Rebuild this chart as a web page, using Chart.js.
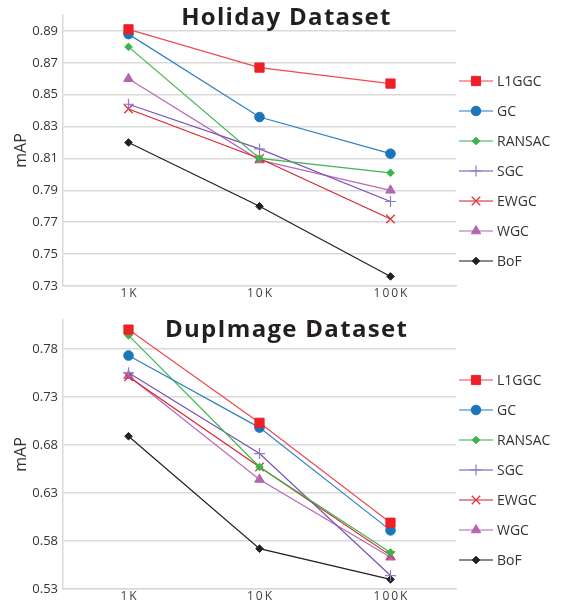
<!DOCTYPE html>
<html>
<head>
<meta charset="utf-8">
<script src="https://cdn.jsdelivr.net/npm/chart.js@4.4.0/dist/chart.umd.min.js"></script>
<style>
body { margin: 0; background: #fff; }
.box { position: relative; width: 569px; height: 303px; }
</style>
</head>
<body>
<div class="box"><canvas id="holiday"></canvas></div>
<div class="box"><canvas id="dupimage"></canvas></div>
<script>
var sizes = ['1K', '10K', '100K'];
var methods = ['L1GGC', 'GC', 'RANSAC', 'SGC', 'EWGC', 'WGC', 'BoF'];

// Holiday dataset, mAP
var holidayL1GGC  = [0.891, 0.867, 0.857];
var holidayGC     = [0.888, 0.836, 0.813];
var holidayRANSAC = [0.880, 0.810, 0.801];
var holidaySGC    = [0.844, 0.816, 0.783];
var holidayEWGC   = [0.841, 0.810, 0.772];
var holidayWGC    = [0.860, 0.809, 0.790];
var holidayBoF    = [0.820, 0.780, 0.736];
var holidayTicks  = [0.73, 0.75, 0.77, 0.79, 0.81, 0.83, 0.85, 0.87, 0.89];

// DupImage dataset, mAP
var dupL1GGC  = [0.800, 0.703, 0.599];
var dupGC     = [0.773, 0.698, 0.591];
var dupRANSAC = [0.794, 0.657, 0.568];
var dupSGC    = [0.755, 0.671, 0.544];
var dupEWGC   = [0.751, 0.657, 0.565];
var dupWGC    = [0.752, 0.644, 0.563];
var dupBoF    = [0.689, 0.572, 0.540];
var dupTicks  = [0.53, 0.58, 0.63, 0.68, 0.73, 0.78];

// look of each method: line colour, marker colour, marker shape, marker size
var styles = [
  { line: '#ef4a4f', mark: '#ed2027', shape: 'rect',      r: 6.5, bw: 1 },
  { line: '#2f80c4', mark: '#1b75bb', shape: 'circle',    r: 4.8, bw: 1 },
  { line: '#3db64d', mark: '#39b54a', shape: 'rectRot',   r: 3.8, bw: 1 },
  { line: '#7b52b3', mark: '#8a7cc4', shape: 'cross',     r: 5.5, bw: 1.2 },
  { line: '#d6262d', mark: '#de3a40', shape: 'crossRot',  r: 6,   bw: 1.4 },
  { line: '#b86ab6', mark: '#b366b1', shape: 'triangle',  r: 5.5, bw: 1 },
  { line: '#231f20', mark: '#231f20', shape: 'rectRot',   r: 3.8, bw: 1 }
];

function makeSets(series) {
  return series.map(function (vals, i) {
    var s = styles[i];
    return {
      label: methods[i],
      data: vals,
      borderColor: s.line,
      borderWidth: 1.2,
      pointStyle: s.shape,
      pointRadius: s.r,
      pointBackgroundColor: s.mark,
      pointBorderColor: s.mark,
      pointBorderWidth: s.bw,
      tension: 0,
      fill: false
    };
  });
}

var sideBits = {
  id: 'sideBits',
  afterDraw: function (chart, args, opts) {
    var ctx = chart.ctx;
    ctx.save();
    // title, drawn over the plot like the original
    ctx.font = 'bold 24px "Open Sans"';
    if ('letterSpacing' in ctx) ctx.letterSpacing = '1.3px';
    ctx.fillStyle = '#231f20';
    ctx.textAlign = 'center';
    ctx.textBaseline = 'alphabetic';
    ctx.fillText(opts.title, chart.width / 2 + 2, opts.titleY);
    if ('letterSpacing' in ctx) ctx.letterSpacing = '0px';
    // legend: line sample with marker
    ctx.textAlign = 'left';
    ctx.textBaseline = 'middle';
    ctx.font = '14px "Open Sans"';
    chart.data.datasets.forEach(function (ds, i) {
      var y = opts.legendY + i * 30;
      ctx.globalAlpha = 0.7;
      ctx.strokeStyle = ds.borderColor;
      ctx.lineWidth = 1.5;
      ctx.beginPath();
      ctx.moveTo(459, y);
      ctx.lineTo(493, y);
      ctx.stroke();
      ctx.globalAlpha = 1;
      ctx.fillStyle = ds.pointBackgroundColor;
      ctx.strokeStyle = ds.pointBorderColor;
      ctx.lineWidth = ds.pointBorderWidth;
      Chart.helpers.drawPoint(ctx, { pointStyle: ds.pointStyle, radius: ds.pointRadius, rotation: 0, borderWidth: ds.pointBorderWidth }, 476, y);
      ctx.fillStyle = '#333333';
      ctx.fillText(ds.label, 497, y + 1);
    });
    ctx.restore();
  }
};

function makeChart(id, series, ticks, yMin, yMax, topPad, title, titleY, legendY) {
  return new Chart(document.getElementById(id), {
    type: 'line',
    data: { labels: sizes, datasets: makeSets(series) },
    plugins: [sideBits],
    options: {
      responsive: true,
      maintainAspectRatio: false,
      animation: false,
      layout: { padding: { top: topPad, right: 113, left: 0, bottom: 0 } },
      plugins: {
        legend: { display: false },
        tooltip: { enabled: false },
        sideBits: { title: title, titleY: titleY, legendY: legendY }
      },
      scales: {
        x: {
          offset: true,
          grid: { display: false, drawTicks: false },
          border: { display: true, color: '#d9d9d9', width: 1.5 },
          ticks: {
            color: '#404040',
            font: { family: 'Open Sans', size: 12 },
            padding: 0,
            // the original spaces the letters of these labels out
            callback: function (v) { return String(this.getLabelForValue(v)).split('').join('\u2009'); }
          },
          afterFit: function (scale) { scale.height = 17; }
        },
        y: {
          min: yMin,
          max: yMax,
          afterBuildTicks: function (axis) {
            axis.ticks = ticks.map(function (v) { return { value: v }; });
          },
          afterFit: function (scale) { scale.width = 63; },
          grid: { color: '#d9d9d9', lineWidth: 1.5, drawTicks: false },
          border: { display: true, color: '#d9d9d9', width: 1.5 },
          ticks: {
            color: '#333333',
            padding: 5,
            font: { family: 'Open Sans', size: 13 },
            callback: function (v) { return Number(v).toFixed(2); }
          },
          title: {
            display: true,
            text: 'mAP',
            color: '#333333',
            font: { family: 'Open Sans', size: 16 },
            padding: { top: 12, bottom: 0 }
          }
        }
      }
    }
  });
}

makeChart('holiday',
  [holidayL1GGC, holidayGC, holidayRANSAC, holidaySGC, holidayEWGC, holidayWGC, holidayBoF],
  holidayTicks, 0.73, 0.90, 15, 'Holiday Dataset', 25, 81);

makeChart('dupimage',
  [dupL1GGC, dupGC, dupRANSAC, dupSGC, dupEWGC, dupWGC, dupBoF],
  dupTicks, 0.53, 0.81, 17, 'DupImage Dataset', 34, 77);
</script>
</body>
</html>
